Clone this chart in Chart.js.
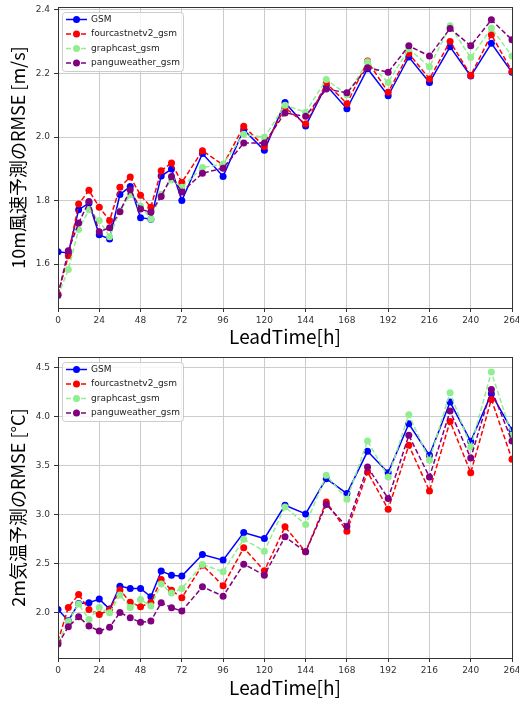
<!DOCTYPE html>
<html>
<head>
<meta charset="utf-8">
<script src="https://cdn.jsdelivr.net/npm/chart.js@4.4.0/dist/chart.umd.min.js"></script>
<style>
  html, body { margin: 0; padding: 0; background: #fff; }
  .panel { width: 519px; height: 351px; }
</style>
</head>
<body>
<div class="panel"><canvas id="wind" width="519" height="351"></canvas></div>
<div class="panel"><canvas id="temp" width="519" height="351"></canvas></div>
<script>
// lead times in hours (6h steps up to 72h, then 12h steps)
const leadTimes = [0, 6, 12, 18, 24, 30, 36, 42, 48, 54, 60, 66, 72, 84, 96, 108, 120,
    132, 144, 156, 168, 180, 192, 204, 216, 228, 240, 252, 264];
const seriesNames = ['GSM', 'fourcastnetv2_gsm', 'graphcast_gsm', 'panguweather_gsm'];
const xTicks = [0, 24, 48, 72, 96, 120, 144, 168, 192, 216, 240, 264];

// 10m wind speed RMSE [m/s]
const gsmWind = [1.639, 1.635, 1.771, 1.792, 1.692, 1.679, 1.819, 1.844, 1.746, 1.741, 1.877, 1.899, 1.800, 1.948, 1.876, 2.023, 1.958,
    2.109, 2.035, 2.163, 2.089, 2.215, 2.130, 2.252, 2.172, 2.284, 2.192, 2.295, 2.204];
const fcnWind = [1.505, 1.626, 1.789, 1.832, 1.779, 1.737, 1.842, 1.874, 1.817, 1.779, 1.894, 1.918, 1.857, 1.957, 1.912, 2.034, 1.970,
    2.092, 2.041, 2.170, 2.105, 2.239, 2.141, 2.263, 2.183, 2.301, 2.194, 2.322, 2.207];
const gcWind = [1.500, 1.583, 1.709, 1.771, 1.737, 1.686, 1.768, 1.818, 1.783, 1.742, 1.820, 1.865, 1.842, 1.904, 1.915, 2.009, 1.999,
    2.100, 2.078, 2.181, 2.133, 2.237, 2.172, 2.278, 2.221, 2.350, 2.250, 2.343, 2.255];
const pwWind = [1.502, 1.642, 1.729, 1.797, 1.702, 1.714, 1.765, 1.834, 1.773, 1.763, 1.813, 1.876, 1.827, 1.886, 1.902, 1.981, 1.981,
    2.076, 2.065, 2.151, 2.139, 2.218, 2.204, 2.287, 2.255, 2.342, 2.287, 2.369, 2.306];
const windTicks = [1.6, 1.8, 2.0, 2.2, 2.4];

// 2m temperature RMSE [°C]
const gsmTemp = [2.034, 1.919, 2.095, 2.102, 2.139, 2.037, 2.271, 2.247, 2.247, 2.163, 2.424, 2.383, 2.373, 2.593, 2.536, 2.817, 2.756,
    3.095, 3.007, 3.366, 3.214, 3.644, 3.427, 3.925, 3.603, 4.146, 3.746, 4.231, 3.858];
const fcnTemp = [1.710, 2.054, 2.186, 2.034, 1.983, 2.030, 2.231, 2.108, 2.061, 2.105, 2.339, 2.229, 2.153, 2.485, 2.275, 2.661, 2.427,
    2.875, 2.620, 3.129, 2.831, 3.434, 3.054, 3.705, 3.241, 3.949, 3.427, 4.173, 3.563];
const gcTemp = [1.700, 1.912, 2.088, 1.932, 2.054, 2.000, 2.180, 2.054, 2.136, 2.068, 2.292, 2.200, 2.247, 2.492, 2.417, 2.749, 2.627,
    3.078, 2.898, 3.400, 3.156, 3.749, 3.383, 4.017, 3.553, 4.241, 3.688, 4.451, 3.807];
const pwTemp = [1.681, 1.858, 1.959, 1.864, 1.814, 1.851, 2.003, 1.949, 1.902, 1.915, 2.102, 2.051, 2.017, 2.264, 2.169, 2.495, 2.383,
    2.773, 2.620, 3.102, 2.878, 3.485, 3.163, 3.807, 3.383, 4.054, 3.576, 4.275, 3.749];
const tempTicks = [2.0, 2.5, 3.0, 3.5, 4.0, 4.5];

const colors = ['#0000ff', '#ff0000', '#90ee90', '#800080'];
const tickFont = { family: 'DejaVu Sans', size: 9 };
const titleFont = { family: 'Noto Sans CJK JP', size: 18 };

// matplotlib-like box around the plot + legend in the upper left corner
const framePlugin = {
    id: 'frame',
    afterDraw(chart) {
        const { ctx, chartArea: a } = chart;
        ctx.save();
        ctx.strokeStyle = '#333';
        ctx.lineWidth = 1;
        ctx.strokeRect(Math.round(a.left) + 0.5, Math.round(a.top) + 0.5,
            Math.round(a.right - a.left), Math.round(a.bottom - a.top));

        const x0 = a.left + 4, y0 = a.top + 5;
        ctx.beginPath();
        ctx.roundRect(x0 + 0.5, y0 + 0.5, 121, 59, 3);
        ctx.fillStyle = 'rgba(255,255,255,0.8)';
        ctx.fill();
        ctx.strokeStyle = '#cccccc';
        ctx.stroke();

        chart.data.datasets.forEach((ds, i) => {
            const y = y0 + 7.5 + i * 14.5;
            ctx.strokeStyle = ds.borderColor;
            ctx.lineWidth = 1.5;
            ctx.setLineDash(ds.borderDash);
            ctx.beginPath();
            ctx.moveTo(a.left + 8, y);
            ctx.lineTo(a.left + 29, y);
            ctx.stroke();
            ctx.setLineDash([]);
            ctx.fillStyle = ds.borderColor;
            ctx.beginPath();
            ctx.arc(a.left + 18.5, y, 3.5, 0, Math.PI * 2);
            ctx.fill();
            ctx.fillStyle = '#222';
            ctx.font = '9px "DejaVu Sans"';
            ctx.textBaseline = 'middle';
            ctx.fillText(ds.label, a.left + 33, y);
        });
        ctx.restore();
    }
};

function makeDatasets(valueLists) {
    return valueLists.map((values, i) => ({
        label: seriesNames[i],
        data: leadTimes.map((t, j) => ({ x: t, y: values[j] })),
        borderColor: colors[i],
        backgroundColor: colors[i],
        pointBackgroundColor: colors[i],
        pointBorderColor: colors[i],
        borderWidth: 1.5,
        borderDash: i === 0 ? [] : [5, 2.5],
        pointRadius: 3.5,
        pointBorderWidth: 0,
        tension: 0,
        order: 3 - i
    }));
}

function makeChart(canvasId, valueLists, yMin, yMax, yTicks, yTitle, topPad) {
    return new Chart(document.getElementById(canvasId), {
        type: 'line',
        data: { datasets: makeDatasets(valueLists) },
        options: {
            responsive: false,
            animation: false,
            layout: { padding: { top: topPad, right: 7, left: 0, bottom: 0 } },
            plugins: { legend: { display: false }, tooltip: { enabled: false } },
            scales: {
                x: {
                    type: 'linear',
                    min: 0,
                    max: 264,
                    afterBuildTicks: s => { s.ticks = xTicks.map(v => ({ value: v })); },
                    afterFit: s => { s.height = 351 - 307 - topPad + 6; s.paddingLeft = 0; s.paddingRight = 0; },
                    ticks: { font: tickFont, color: '#333', padding: 3, maxRotation: 0 },
                    grid: { color: '#cccccc', lineWidth: 1, tickColor: '#333', tickLength: 4 },
                    border: { color: '#333', width: 1 },
                    title: {
                        display: true,
                        text: 'LeadTime[h]',
                        font: { family: 'Noto Sans CJK JP', size: 19 },
                        color: '#000',
                        padding: { top: 0, bottom: 3 }
                    }
                },
                y: {
                    min: yMin,
                    max: yMax,
                    afterBuildTicks: s => { s.ticks = yTicks.map(v => ({ value: v })); },
                    afterFit: s => { s.width = 58; s.paddingTop = 0; s.paddingBottom = 0; },
                    ticks: { font: tickFont, color: '#333', padding: 4, callback: v => v.toFixed(1) },
                    grid: { color: '#cccccc', lineWidth: 1, tickColor: '#333', tickLength: 4 },
                    border: { color: '#333', width: 1 },
                    title: {
                        display: true,
                        text: yTitle,
                        font: titleFont,
                        color: '#000',
                        padding: { top: 7, bottom: 0 }
                    }
                }
            }
        },
        plugins: [framePlugin]
    });
}

makeChart('wind', [gsmWind, fcnWind, gcWind, pwWind], 1.4616, 2.4094, windTicks,
    '10m風速予測のRMSE [m/s]', 7);
makeChart('temp', [gsmTemp, fcnTemp, gcTemp, pwTemp], 1.539, 4.605, tempTicks,
    '2m気温予測のRMSE [°C]', 6);
</script>
</body>
</html>
